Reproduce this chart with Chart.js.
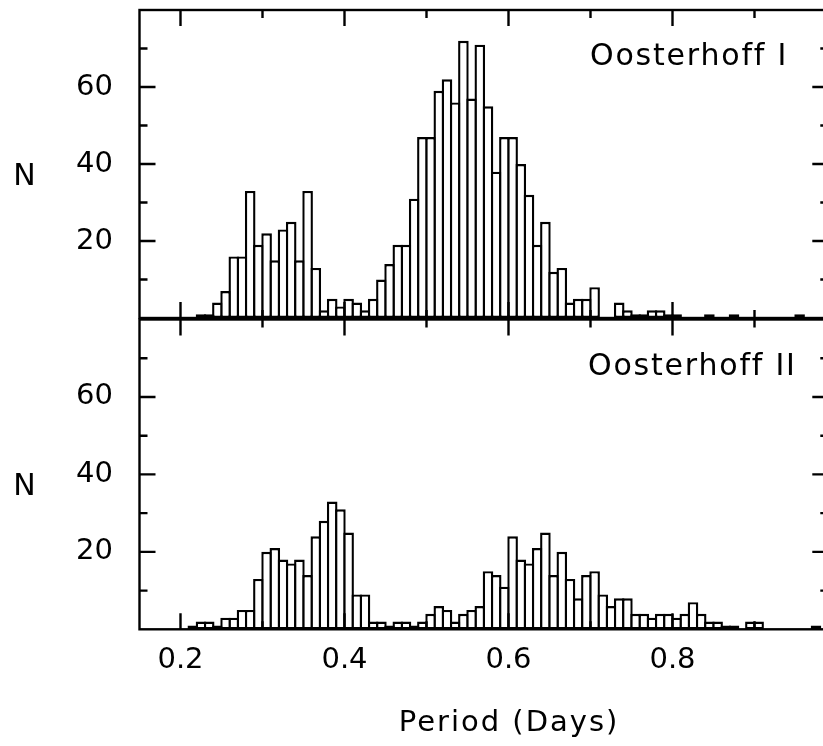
<!DOCTYPE html>
<html lang="en">
<head>
    <meta charset="UTF-8">
    <title>Oosterhoff period histograms</title>
    <script src="https://cdn.jsdelivr.net/npm/chart.js"></script>
    <style>
        html, body {
            margin: 0;
            padding: 0;
            background: #fff;
            overflow: hidden;
        }
        #wrap {
            position: relative;
            width: 823px;
            height: 746px;
            overflow: hidden;
        }
        #topChart {
            position: absolute;
            left: 0;
            top: 0;
        }
        #botChart {
            position: absolute;
            left: 0;
            top: 310px;
        }
    </style>
</head>
<body>
    <div id="wrap">
        <canvas id="topChart" width="840" height="330"></canvas>
        <canvas id="botChart" width="840" height="436"></canvas>
    </div>

    <script>
        // histogram bins: first bin starts at 0.21, each 0.01 days wide
        const binStart = 0.21;
        const binWidth = 0.01;

        // counts per bin, 0.21 ... 0.98
        const oosterhoffI = [
            0, 1, 1, 4, 7, 16, 16, 33, 19, 22,
            15, 23, 25, 15, 33, 13, 2, 5, 3, 5,
            4, 2, 5, 10, 14, 19, 19, 31, 47, 47,
            59, 62, 56, 72, 57, 71, 55, 38, 47, 47,
            40, 32, 19, 25, 12, 13, 4, 5, 5, 8,
            0, 0, 4, 2, 1, 1, 2, 2, 1, 1,
            0, 0, 0, 1, 0, 0, 1, 0, 0, 0,
            0, 0, 0, 0, 1, 0, 0, 0
        ];
        const oosterhoffII = [
            1, 2, 2, 1, 3, 3, 5, 5, 13, 20,
            21, 18, 17, 18, 14, 24, 28, 33, 31, 25,
            9, 9, 2, 2, 1, 2, 2, 1, 2, 4,
            6, 5, 2, 4, 5, 6, 15, 14, 11, 24,
            18, 17, 21, 25, 14, 20, 13, 8, 14, 15,
            9, 6, 8, 8, 4, 4, 3, 4, 4, 3,
            4, 7, 4, 2, 2, 1, 1, 0, 2, 2,
            0, 0, 0, 0, 0, 0, 1, 0
        ];

        const xMajor = [0.2, 0.4, 0.6, 0.8];
        const xMinor = [0.3, 0.5, 0.7, 0.9];
        const yMajor = [20, 40, 60];
        const yMinor = [10, 30, 50, 70];

        const FONT = '"DejaVu Sans", sans-serif';
        const LINE = 2.4;

        function toPoints(counts) {
            return counts.map((c, i) => ({
                x: +(binStart + binWidth * (i + 0.5)).toFixed(3),
                y: c
            }));
        }

        // frame, inward ticks on all four sides, and panel texts
        const panelDecor = {
            id: 'panelDecor',
            afterDatasetsDraw(chart, args, opts) {
                const { ctx, chartArea: a } = chart;
                const x = chart.scales.x;
                const y = chart.scales.y;
                ctx.save();
                ctx.strokeStyle = '#000';
                ctx.lineWidth = LINE;
                ctx.strokeRect(a.left, a.top, a.right - a.left, a.bottom - a.top);

                ctx.beginPath();
                const xt = (v, len) => {
                    const px = x.getPixelForValue(v);
                    ctx.moveTo(px, a.top); ctx.lineTo(px, a.top + len);
                    ctx.moveTo(px, a.bottom); ctx.lineTo(px, a.bottom - len);
                };
                const yt = (v, len) => {
                    const py = y.getPixelForValue(v);
                    ctx.moveTo(a.left, py); ctx.lineTo(a.left + len, py);
                    ctx.moveTo(a.right, py); ctx.lineTo(a.right - len, py);
                };
                xMajor.forEach(v => xt(v, 16));
                xMinor.forEach(v => xt(v, 8));
                yMajor.forEach(v => yt(v, 16));
                yMinor.forEach(v => yt(v, 8));
                ctx.stroke();

                ctx.fillStyle = '#000';
                ctx.textBaseline = 'alphabetic';
                ctx.font = '30px ' + FONT;
                ctx.letterSpacing = '1.8px';
                ctx.textAlign = 'left';
                ctx.fillText(opts.label, opts.labelX, 65);

                ctx.letterSpacing = '0px';
                ctx.textAlign = 'center';
                ctx.font = '30px ' + FONT;
                ctx.fillText('N', 24.5, y.getPixelForValue(40) + 21);

                if (opts.xTitle) {
                    ctx.font = '29px ' + FONT;
                    ctx.letterSpacing = '2px';
                    ctx.fillText(opts.xTitle, 509, 421);
                }
                ctx.restore();
            }
        };

        function makePanel(canvasId, counts, label, labelX, isBottom) {
            const ctx = document.getElementById(canvasId).getContext('2d');
            return new Chart(ctx, {
                type: 'bar',
                data: {
                    datasets: [{
                        data: toPoints(counts),
                        backgroundColor: '#fff',
                        borderColor: '#000',
                        borderWidth: LINE,
                        borderSkipped: false,
                        // widen each bar by one border so neighbours share a single edge
                        barPercentage: 1 + LINE / 8.2,
                        categoryPercentage: 1.0
                    }]
                },
                options: {
                    responsive: false,
                    animation: false,
                    devicePixelRatio: 1,
                    layout: {
                        padding: { left: 0, right: 11.7, top: isBottom ? 9.5 : 10, bottom: isBottom ? 0 : 12 }
                    },
                    plugins: {
                        legend: { display: false },
                        tooltip: { enabled: false },
                        panelDecor: { label: label, labelX: labelX, xTitle: isBottom ? 'Period (Days)' : null }
                    },
                    scales: {
                        x: {
                            type: 'linear',
                            min: 0.15,
                            max: 0.99,
                            display: isBottom,
                            offset: false,
                            grid: { display: false, drawTicks: false },
                            border: { display: false },
                            afterBuildTicks: s => { s.ticks = xMajor.map(v => ({ value: v })); },
                            afterFit: s => {
                                s.height = isBottom ? 116.7 : 0;
                                s.paddingLeft = 0;
                                s.paddingRight = 0;
                            },
                            ticks: {
                                padding: 14,
                                maxRotation: 0,
                                autoSkip: false,
                                color: '#000',
                                font: { family: FONT, size: 29 },
                                callback: v => v.toFixed(1)
                            }
                        },
                        y: {
                            min: 0,
                            max: 80,
                            grid: { display: false, drawTicks: false },
                            border: { display: false },
                            afterBuildTicks: s => { s.ticks = yMajor.map(v => ({ value: v })); },
                            afterFit: s => {
                                s.width = 139.5;
                                s.paddingTop = 0;
                                s.paddingBottom = 0;
                            },
                            ticks: {
                                padding: 26.5,
                                color: '#000',
                                font: { family: FONT, size: 29 },
                                callback: v => String(v)
                            }
                        }
                    }
                },
                plugins: [panelDecor]
            });
        }

        makePanel('topChart', oosterhoffI, 'Oosterhoff I', 590, false);
        makePanel('botChart', oosterhoffII, 'Oosterhoff II', 588, true);
    </script>
</body>
</html>
